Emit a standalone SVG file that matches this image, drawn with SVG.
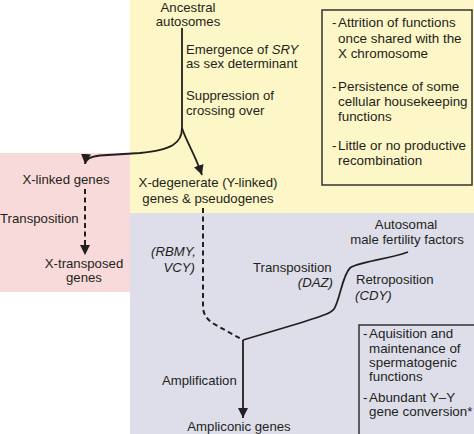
<svg xmlns="http://www.w3.org/2000/svg" width="474" height="434" viewBox="0 0 474 434">
<style>
text{font-family:"Liberation Sans",Arial,sans-serif;font-size:13.2px;fill:#231f20}
.b{font-size:13.4px}
.i{font-style:italic}
.m{text-anchor:middle}
.r{text-anchor:end}
.ln{fill:none;stroke:#231f20;stroke-width:1.8}
.d{fill:none;stroke:#231f20;stroke-width:2;stroke-dasharray:5,3.5}
.box{stroke:#333;stroke-width:1.5}
</style>
<defs>
<marker id="ah" viewBox="0 0 10 10" refX="10" refY="5" markerWidth="10" markerHeight="10" markerUnits="userSpaceOnUse" orient="auto">
<path d="M0,0 L10,5 L0,10 Z" fill="#231f20"/>
</marker>
</defs>
<g id="regions">
<rect x="130" y="0" width="344" height="213" fill="#fdf6c6"/>
<rect x="0" y="153" width="130" height="139" fill="#f9dada"/>
<rect x="130" y="213" width="344" height="221" fill="#dddeea"/>
</g>
<g id="ancestral">
<text x="188" y="12" class="m">Ancestral</text>
<text x="188" y="26" class="m">autosomes</text>
</g>
<g id="steps-top">
<text x="186" y="54">Emergence of <tspan class="i">SRY</tspan></text>
<text x="186" y="68">as sex determinant</text>
<text x="186" y="100">Suppression of</text>
<text x="186" y="115">crossing over</text>
</g>
<g id="box-top">
<rect x="322" y="10" width="150" height="175" fill="#fdf6c6" class="box"/>
<text x="332" y="27" class="b">-</text>
<text x="338" y="27" class="b">Attrition of functions</text>
<text x="338" y="43" class="b">once shared with the</text>
<text x="338" y="58" class="b">X chromosome</text>
<text x="332" y="91" class="b">-</text>
<text x="338" y="91" class="b">Persistence of some</text>
<text x="338" y="106" class="b">cellular housekeeping</text>
<text x="338" y="121" class="b">functions</text>
<text x="332" y="150" class="b">-</text>
<text x="338" y="150" class="b">Little or no productive</text>
<text x="338" y="165" class="b">recombination</text>
</g>
<g id="x-linked">
<text x="66" y="184" class="m">X-linked genes</text>
</g>
<g id="x-transposed">
<text x="84" y="268" class="m">X-transposed</text>
<text x="84" y="282" class="m">genes</text>
</g>
<g id="x-degenerate">
<text x="208" y="187" class="m">X-degenerate (Y-linked)</text>
<text x="208" y="203" class="m">genes &amp; pseudogenes</text>
</g>
<g id="autosomal">
<text x="406" y="229" class="m">Autosomal</text>
<text x="407" y="244" class="m">male fertility factors</text>
</g>
<g id="ampliconic">
<text x="239" y="431" class="m">Ampliconic genes</text>
</g>
<g id="box-bottom">
<rect x="359" y="325" width="130" height="120" fill="#dddeea" class="box"/>
<text x="363" y="338" class="b">-</text>
<text x="369" y="338" class="b">Aquisition and</text>
<text x="369" y="353" class="b">maintenance of</text>
<text x="369" y="367" class="b">spermatogenic</text>
<text x="369" y="381" class="b">functions</text>
<text x="363" y="402" class="b">-</text>
<text x="369" y="402" class="b">Abundant Y–Y</text>
<text x="369" y="416" class="b">gene conversion*</text>
</g>
<g id="connectors">
<path class="ln" d="M182,28 L182,128"/>
<path class="ln" d="M182,128 C182,143 172,150 140,153 L100,155.5 C90,156.5 85.5,159 85,164" marker-end="url(#ah)"/>
<path class="ln" d="M182,128 C186,141 194,152 202,175" marker-end="url(#ah)"/>
<path class="d" d="M85,189 L85,255" marker-end="url(#ah)"/>
<path class="d" d="M203,208 L203,308 Q204,318 214,324 L243,340"/>
<path class="ln" d="M408,252 C385,260 358,262 350,268 C342,276 340,300 334,309 C331,313 325,315 300,323 L243,340"/>
<path class="ln" d="M243,340 L243,418" marker-end="url(#ah)"/>
</g>
<g id="labels">
<text x="0" y="223">Transposition</text>
<text x="196" y="256" class="r i">(RBMY,</text>
<text x="195" y="272" class="r i">VCY)</text>
<text x="253" y="272">Transposition</text>
<text x="333" y="287" class="r i">(DAZ)</text>
<text x="356" y="284">Retroposition</text>
<text x="355" y="300" class="i">(CDY)</text>
<text x="162" y="385">Amplification</text>
</g>
</svg>
